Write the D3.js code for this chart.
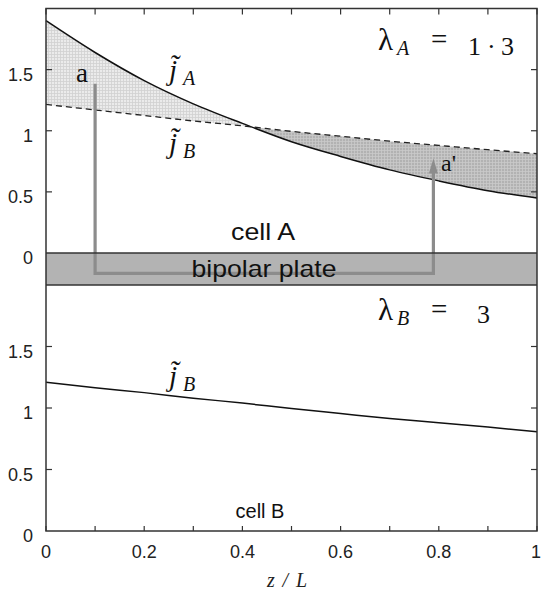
<!DOCTYPE html>
<html>
<head>
<meta charset="utf-8">
<script src="https://cdn.jsdelivr.net/npm/d3@7"></script>
<style>
  html, body { margin: 0; padding: 0; background: #fff; }
  svg { display: block; }
</style>
</head>
<body>
<svg id="chart" width="542" height="592"></svg>
<script>
// ---------------- data ----------------
const zL = [0, 0.1, 0.2, 0.3, 0.4, 0.5, 0.6, 0.7, 0.8, 0.9, 1.0];
const jA_cellA = [1.90, 1.64, 1.41, 1.22, 1.06, 0.91, 0.79, 0.68, 0.59, 0.51, 0.45];
const jB_cellA = [1.215, 1.17, 1.125, 1.08, 1.04, 0.995, 0.955, 0.915, 0.88, 0.845, 0.812];
const jB_cellB = [1.21, 1.165, 1.125, 1.08, 1.04, 0.995, 0.955, 0.915, 0.88, 0.845, 0.807];
const yTickValues = [0, 0.5, 1, 1.5];
const yTickLabels = ["0", "0.5", "1", "1.5"];
const xTickValues = [0, 0.2, 0.4, 0.6, 0.8, 1];
const xTickLabels = ["0", "0.2", "0.4", "0.6", "0.8", "1"];
const xMinorTicks = [0, 0.1, 0.2, 0.3, 0.4, 0.5, 0.6, 0.7, 0.8, 0.9, 1.0];
// path of the grey arrow a -> a' (z/L, current density of cell A axis)
const arrowZ = [0.1, 0.1, 0.789, 0.789];
const arrowJ = [1.385, -0.166, -0.166, 0.773];

// ---------------- layout ----------------
const svg = d3.select("#chart");
const X0 = 46, X1 = 537;
const upTop = 8.5, upBot = 253, loTop = 285, loBot = 531;
const x = d3.scaleLinear().domain([0, 1]).range([X0, X1]);
const yA = d3.scaleLinear().domain([0, 2]).range([upBot, upTop]);
const yB = d3.scaleLinear().domain([0, 2]).range([loBot, loTop]);

const defs = svg.append("defs");
function gridPattern(id, bg, line) {
  const p = defs.append("pattern").attr("id", id).attr("patternUnits", "userSpaceOnUse")
    .attr("width", 3).attr("height", 3);
  p.append("rect").attr("width", 3).attr("height", 3).attr("fill", bg);
  p.append("path").attr("d", "M0,0.5H3M0.5,0V3").attr("stroke", line).attr("stroke-width", 0.8);
}
gridPattern("lightGrid", "#ebebeb", "#d0d0d0");
gridPattern("darkGrid", "#b2b2b2", "#cacaca");

// crossing point of jA and jB
let zc = 0.42;
for (let i = 0; i < zL.length - 1; i++) {
  const d0 = jA_cellA[i] - jB_cellA[i], d1 = jA_cellA[i + 1] - jB_cellA[i + 1];
  if (d0 >= 0 && d1 < 0) { zc = zL[i] + (zL[i + 1] - zL[i]) * d0 / (d0 - d1); }
}
defs.append("clipPath").attr("id", "clipL").append("rect")
  .attr("x", X0).attr("y", 0).attr("width", x(zc) - X0).attr("height", upBot);
defs.append("clipPath").attr("id", "clipR").append("rect")
  .attr("x", x(zc)).attr("y", 0).attr("width", X1 - x(zc)).attr("height", upBot);

const pts = zL.map((z, i) => ({ z, a: jA_cellA[i], b: jB_cellA[i] }));
const curve = d3.curveMonotoneX;
const area = d3.area().x(d => x(d.z)).y0(d => yA(d.b)).y1(d => yA(d.a)).curve(curve);
svg.append("path").datum(pts).attr("d", area).attr("fill", "url(#lightGrid)").attr("clip-path", "url(#clipL)");
svg.append("path").datum(pts).attr("d", area).attr("fill", "url(#darkGrid)").attr("clip-path", "url(#clipR)");

// bipolar plate
svg.append("rect").attr("x", X0).attr("y", upBot).attr("width", X1 - X0).attr("height", loTop - upBot)
  .attr("fill", "#b3b3b3");

// curves
const lineA = d3.line().x(d => x(d.z)).y(d => yA(d.a)).curve(curve);
const lineB = d3.line().x(d => x(d.z)).y(d => yA(d.b)).curve(curve);
svg.append("path").datum(pts).attr("d", lineA).attr("fill", "none").attr("stroke", "#111").attr("stroke-width", 1.5);
svg.append("path").datum(pts).attr("d", lineB).attr("fill", "none").attr("stroke", "#222")
  .attr("stroke-width", 1.3).attr("stroke-dasharray", "6,4");
const ptsB = zL.map((z, i) => ({ z, b: jB_cellB[i] }));
svg.append("path").datum(ptsB)
  .attr("d", d3.line().x(d => x(d.z)).y(d => yB(d.b)).curve(curve))
  .attr("fill", "none").attr("stroke", "#111").attr("stroke-width", 1.5);

// grey arrow
const headLen = 15, headW = 4.5;
const ap = arrowZ.map((z, i) => [x(z), yA(arrowJ[i])]);
const tip = ap[ap.length - 1];
const apLine = ap.slice(0, -1).concat([[tip[0], tip[1] + headLen - 1]]);
svg.append("path").attr("d", d3.line()(apLine)).attr("fill", "none")
  .attr("stroke", "#8c8c8c").attr("stroke-width", 3.2).attr("stroke-linejoin", "miter");
svg.append("path").attr("d", `M${tip[0]},${tip[1]}L${tip[0] - headW},${tip[1] + headLen}L${tip[0] + headW},${tip[1] + headLen}Z`)
  .attr("fill", "#8c8c8c");

// frame
const frame = svg.append("g").attr("stroke", "#333").attr("stroke-width", 1.5).attr("fill", "none");
frame.append("path").attr("d", `M${X0},${upTop}H${X1}V${loBot}H${X0}Z`);
frame.append("line").attr("x1", X0).attr("x2", X1).attr("y1", upBot).attr("y2", upBot);
frame.append("line").attr("x1", X0).attr("x2", X1).attr("y1", loTop).attr("y2", loTop);

// ticks
const tk = svg.append("g").attr("stroke", "#333").attr("stroke-width", 1.2);
xMinorTicks.forEach(v => {
  tk.append("line").attr("x1", x(v)).attr("x2", x(v)).attr("y1", upTop).attr("y2", upTop + 6);
  tk.append("line").attr("x1", x(v)).attr("x2", x(v)).attr("y1", loBot).attr("y2", loBot - 5);
});
yTickValues.filter(v => v > 0).forEach(v => {
  [yA, yB].forEach(s => {
    tk.append("line").attr("x1", X0).attr("x2", X0 + 6).attr("y1", s(v)).attr("y2", s(v));
    tk.append("line").attr("x1", X1).attr("x2", X1 - 6).attr("y1", s(v)).attr("y2", s(v));
  });
});

// tick labels
const sans = "'Liberation Sans', Arial, Helvetica, sans-serif";
const serif = "'Liberation Serif', 'Times New Roman', serif";
[yA, yB].forEach(s => {
  yTickValues.forEach((v, i) => {
    svg.append("text").attr("x", 33).attr("y", s(v) + 11).attr("text-anchor", "end")
      .attr("font-family", sans).attr("font-size", 18).attr("fill", "#222").text(yTickLabels[i]);
  });
});
xTickValues.forEach((v, i) => {
  svg.append("text").attr("x", x(v) + (v === 1 ? -1 : 0)).attr("y", 558).attr("text-anchor", "middle")
    .attr("font-family", sans).attr("font-size", 18).attr("fill", "#222").text(xTickLabels[i]);
});
svg.append("text").attr("x", 287).attr("y", 587).attr("text-anchor", "middle")
  .attr("font-family", serif).attr("font-style", "italic").attr("font-size", 20).attr("fill", "#222")
  .attr("textLength", 40).attr("lengthAdjust", "spacing").text("z / L");

// annotations
function jLabel(xp, yp, sub) {
  const t = svg.append("text").attr("font-family", serif).attr("font-style", "italic").attr("fill", "#111");
  t.append("tspan").attr("x", xp).attr("y", yp).attr("font-size", 29).text("j\u0303");
  t.append("tspan").attr("x", xp + 14).attr("y", yp + 5).attr("font-size", 20).text(sub);
}
jLabel(169, 80, "A");
jLabel(169, 153, "B");
jLabel(169, 386, "B");

function lambdaLabel(yp, sub) {
  const t = svg.append("text").attr("font-family", serif).attr("fill", "#111");
  t.append("tspan").attr("x", 378).attr("y", yp).attr("font-size", 31).text("λ");
  t.append("tspan").attr("x", 397).attr("y", yp + 5).attr("font-size", 20).attr("font-style", "italic").text(sub);
  t.append("tspan").attr("x", 431).attr("y", yp - 1).attr("font-size", 29).text("=");
  return t;
}
const tA = lambdaLabel(50, "A");
tA.append("tspan").attr("x", 468).attr("y", 55).attr("font-size", 26).text("1");
tA.append("tspan").attr("x", 487).attr("y", 55).attr("font-size", 26).text("·");
tA.append("tspan").attr("x", 501).attr("y", 55).attr("font-size", 26).text("3");
const tB = lambdaLabel(320, "B");
tB.append("tspan").attr("x", 477).attr("y", 323).attr("font-size", 26).text("3");

svg.append("text").attr("x", 76).attr("y", 82).attr("font-family", serif).attr("font-size", 27)
  .attr("fill", "#111").text("a");
svg.append("text").attr("x", 441).attr("y", 171).attr("font-family", serif).attr("font-size", 24)
  .attr("fill", "#111").text("a'");

svg.append("text").attr("x", 263).attr("y", 240).attr("text-anchor", "middle").attr("font-family", sans)
  .attr("font-size", 24).attr("fill", "#111").attr("textLength", 64).attr("lengthAdjust", "spacingAndGlyphs").text("cell A");
svg.append("text").attr("x", 264).attr("y", 277).attr("text-anchor", "middle").attr("font-family", sans)
  .attr("font-size", 24).attr("fill", "#111").attr("textLength", 145).attr("lengthAdjust", "spacingAndGlyphs").text("bipolar plate");
svg.append("text").attr("x", 260).attr("y", 518).attr("text-anchor", "middle").attr("font-family", sans)
  .attr("font-size", 20).attr("fill", "#111").text("cell B");
</script>
</body>
</html>
